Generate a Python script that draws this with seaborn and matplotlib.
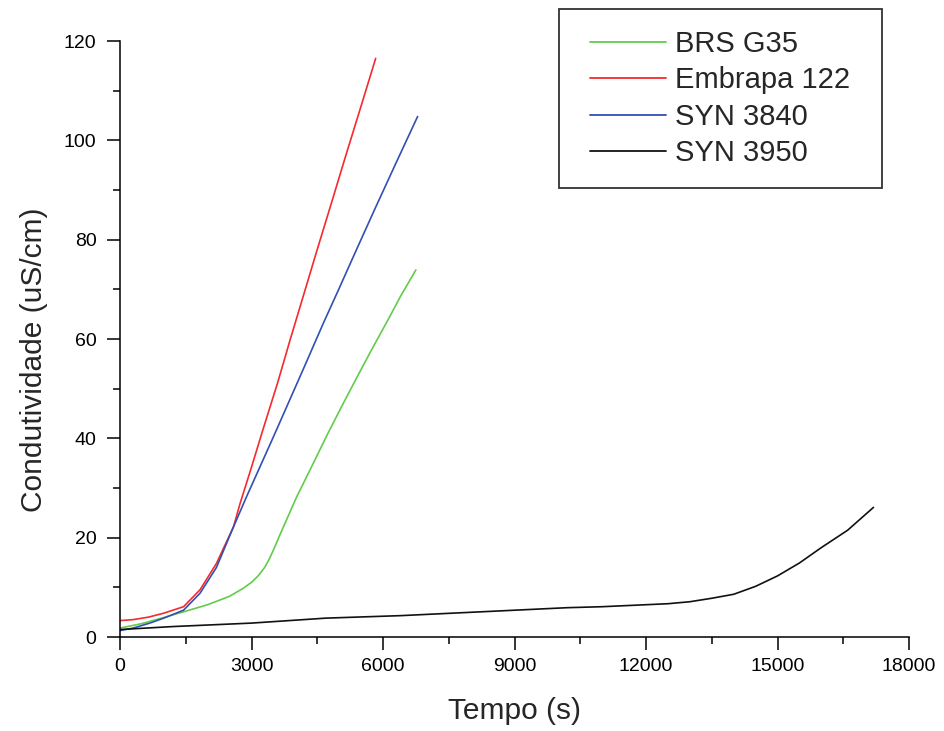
import numpy as np
import pandas as pd
import matplotlib
matplotlib.use("Agg")
import matplotlib.pyplot as plt
import seaborn as sns
from matplotlib.ticker import MultipleLocator
from matplotlib.legend_handler import HandlerLine2D
from matplotlib.lines import Line2D

series_names = ["BRS G35", "Embrapa 122", "SYN 3840", "SYN 3950"]

brs_x = [0, 500, 1065, 1500, 2000, 2500, 2810, 3000, 3150, 3300, 3400, 3500, 3650, 3800, 4030, 4400, 4715, 5050, 5400, 5750, 6080, 6400, 6750]
brs_y = [1.8, 2.7, 4.1, 5.2, 6.5, 8.2, 9.8, 11.0, 12.3, 14.0, 15.6, 17.5, 20.6, 23.6, 28.2, 34.8, 40.5, 46.3, 52.2, 58.0, 63.3, 68.6, 73.9]

emb_x = [0, 300, 650, 1000, 1450, 1825, 2200, 2590, 2740, 3000, 3270, 3600, 3880, 4200, 4485, 4800, 5150, 5500, 5833]
emb_y = [3.3, 3.5, 4.0, 4.8, 6.1, 9.5, 14.8, 22.2, 26.9, 34.2, 42.0, 51.3, 59.8, 69.2, 77.6, 86.7, 96.9, 106.9, 116.5]

s40_x = [0, 300, 680, 1000, 1450, 1825, 2200, 2590, 2900, 3190, 3500, 3880, 4200, 4640, 5000, 5360, 5800, 6300, 6790]
s40_y = [1.3, 1.8, 2.8, 3.8, 5.4, 8.8, 14.0, 22.2, 28.5, 34.2, 40.3, 47.9, 54.3, 63.2, 70.2, 77.3, 85.9, 95.5, 104.8]

s50_x = [0, 1200, 3000, 4700, 6400, 8300, 10200, 11000, 12000, 12500, 13000, 13500, 14000, 14500, 15000, 15500, 16000, 16600, 17190]
s50_y = [1.5, 2.1, 2.8, 3.8, 4.3, 5.1, 5.9, 6.1, 6.5, 6.7, 7.1, 7.8, 8.6, 10.2, 12.3, 14.9, 18.0, 21.5, 26.1]

colors = ["#62cc4a", "#f42a2e", "#3050b4", "#111111"]

frames = []
for name, xs, ys in zip(series_names, [brs_x, emb_x, s40_x, s50_x], [brs_y, emb_y, s40_y, s50_y]):
    frames.append(pd.DataFrame({"Tempo": xs, "Cond": ys, "Variedade": name}))
df = pd.concat(frames, ignore_index=True)

sns.set_theme(style="ticks")
plt.rcParams["font.family"] = ["Liberation Sans", "DejaVu Sans"]

W, H = 944, 731
fig = plt.figure(figsize=(W / 100, H / 100), dpi=100)
ax = fig.add_axes([120 / W, 1 - 637 / H, (909 - 120) / W, (637 - 41) / H])

sns.lineplot(data=df, x="Tempo", y="Cond", hue="Variedade", hue_order=series_names,
             palette=dict(zip(series_names, colors)), sort=False, estimator=None,
             linewidth=1.2, ax=ax)

ax.set_xlim(0, 18000)
ax.set_ylim(0, 120)
ax.xaxis.set_major_locator(MultipleLocator(3000))
ax.xaxis.set_minor_locator(MultipleLocator(1500))
ax.yaxis.set_major_locator(MultipleLocator(20))
ax.yaxis.set_minor_locator(MultipleLocator(10))
ax.tick_params(which="major", direction="out", length=9.4, width=1.1, labelsize=14, colors="black")
ax.tick_params(which="minor", direction="out", length=4.7, width=1.1, colors="black")
ax.tick_params(axis="x", which="major", pad=6)
ax.tick_params(axis="y", which="major", pad=7.5)
for s in ["top", "right"]:
    ax.spines[s].set_visible(False)
for s in ["left", "bottom"]:
    ax.spines[s].set_linewidth(1.1)
    ax.spines[s].set_color("black")

ax.set_xlabel("Tempo (s)", fontsize=21.5)
ax.set_ylabel("Condutividade (uS/cm)", fontsize=21.5)
ax.xaxis.set_label_coords(0.5, (637 - 697) / 596)
ax.yaxis.set_label_coords((48 - 120) / 789, (637 - 360) / 596)

handles, labels = ax.get_legend_handles_labels()
fs = 21
leg = ax.legend(handles, labels, loc="upper left",
                bbox_to_anchor=(559 / W, 0, (882 - 559) / W, 1 - 9 / H),
                bbox_transform=fig.transFigure, mode="expand",
                fontsize=fs, frameon=True, fancybox=False,
                edgecolor="black", handlelength=2.95, handletextpad=0.31, labelspacing=0.29,
                borderpad=0.72, borderaxespad=0,
                handler_map={Line2D: HandlerLine2D(xpad=0.34)})
leg.get_frame().set_linewidth(1.3)
for line in leg.get_lines():
    line.set_linewidth(1.3)

fig.savefig("out.png", dpi=100)
